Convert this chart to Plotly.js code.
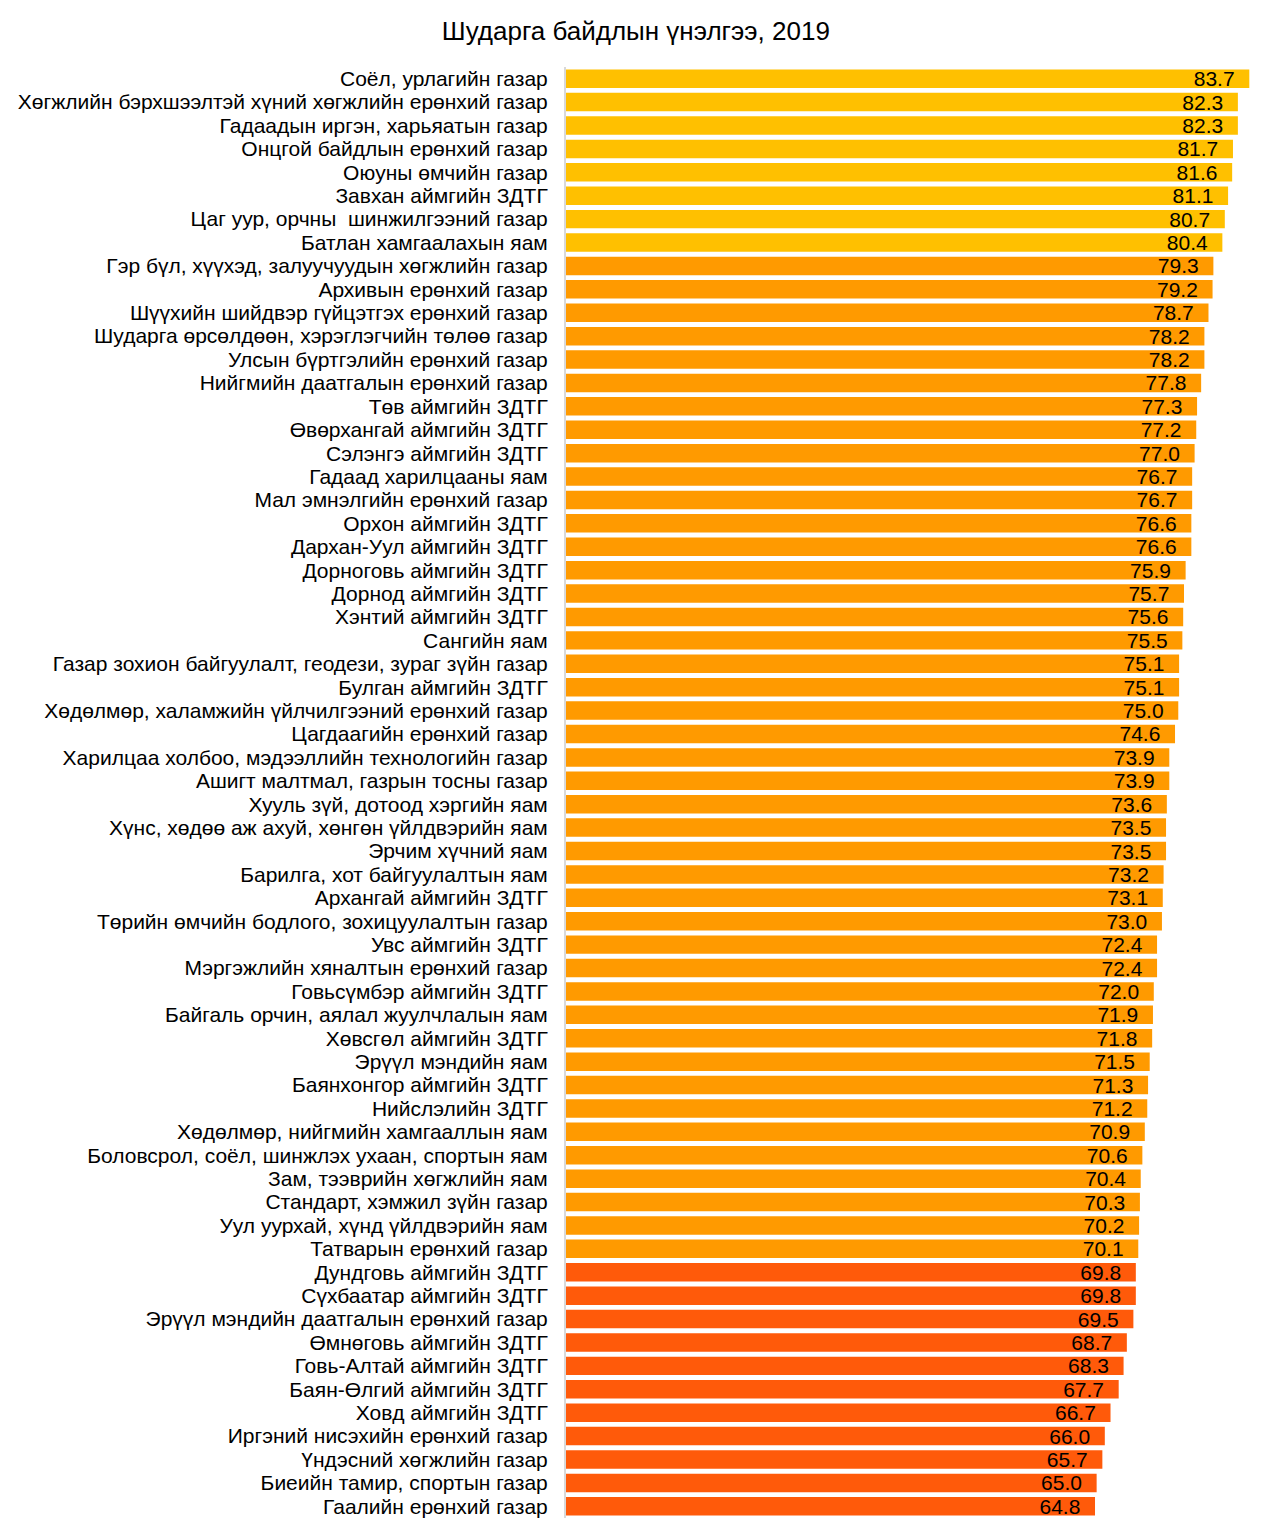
<!DOCTYPE html>
<html>
<head>
<meta charset="utf-8">
<script src="https://cdn.plot.ly/plotly-3.0.1.min.js"></script>
<style>html,body{margin:0;padding:0;background:#fff;}#chart{width:1282px;height:1538px;}</style>
</head>
<body>
<div id="chart"></div>
<script>
const categories = [
"Соёл, урлагийн газар",
"Хөгжлийн бэрхшээлтэй хүний хөгжлийн ерөнхий газар",
"Гадаадын иргэн, харьяатын газар",
"Онцгой байдлын ерөнхий газар",
"Оюуны өмчийн газар",
"Завхан аймгийн ЗДТГ",
"Цаг уур, орчны  шинжилгээний газар",
"Батлан хамгаалахын яам",
"Гэр бүл, хүүхэд, залуучуудын хөгжлийн газар",
"Архивын ерөнхий газар",
"Шүүхийн шийдвэр гүйцэтгэх ерөнхий газар",
"Шударга өрсөлдөөн, хэрэглэгчийн төлөө газар",
"Улсын бүртгэлийн ерөнхий газар",
"Нийгмийн даатгалын ерөнхий газар",
"Төв аймгийн ЗДТГ",
"Өвөрхангай аймгийн ЗДТГ",
"Сэлэнгэ аймгийн ЗДТГ",
"Гадаад харилцааны яам",
"Мал эмнэлгийн ерөнхий газар",
"Орхон аймгийн ЗДТГ",
"Дархан-Уул аймгийн ЗДТГ",
"Дорноговь аймгийн ЗДТГ",
"Дорнод аймгийн ЗДТГ",
"Хэнтий аймгийн ЗДТГ",
"Сангийн яам",
"Газар зохион байгуулалт, геодези, зураг зүйн газар",
"Булган аймгийн ЗДТГ",
"Хөдөлмөр, халамжийн үйлчилгээний ерөнхий газар",
"Цагдаагийн ерөнхий газар",
"Харилцаа холбоо, мэдээллийн технологийн газар",
"Ашигт малтмал, газрын тосны газар",
"Хууль зүй, дотоод хэргийн яам",
"Хүнс, хөдөө аж ахуй, хөнгөн үйлдвэрийн яам",
"Эрчим хүчний яам",
"Барилга, хот байгуулалтын яам",
"Архангай аймгийн ЗДТГ",
"Төрийн өмчийн бодлого, зохицуулалтын газар",
"Увс аймгийн ЗДТГ",
"Мэргэжлийн хяналтын ерөнхий газар",
"Говьсүмбэр аймгийн ЗДТГ",
"Байгаль орчин, аялал жуулчлалын яам",
"Хөвсгөл аймгийн ЗДТГ",
"Эрүүл мэндийн яам",
"Баянхонгор аймгийн ЗДТГ",
"Нийслэлийн ЗДТГ",
"Хөдөлмөр, нийгмийн хамгааллын яам",
"Боловсрол, соёл, шинжлэх ухаан, спортын яам",
"Зам, тээврийн хөгжлийн яам",
"Стандарт, хэмжил зүйн газар",
"Уул уурхай, хүнд үйлдвэрийн яам",
"Татварын ерөнхий газар",
"Дундговь аймгийн ЗДТГ",
"Сүхбаатар аймгийн ЗДТГ",
"Эрүүл мэндийн даатгалын ерөнхий газар",
"Өмнөговь аймгийн ЗДТГ",
"Говь-Алтай аймгийн ЗДТГ",
"Баян-Өлгий аймгийн ЗДТГ",
"Ховд аймгийн ЗДТГ",
"Иргэний нисэхийн ерөнхий газар",
"Үндэсний хөгжлийн газар",
"Биеийн тамир, спортын газар",
"Гаалийн ерөнхий газар"
];
const scores = [
83.7, 82.3, 82.3, 81.7, 81.6, 81.1, 80.7, 80.4,
79.3, 79.2, 78.7, 78.2, 78.2, 77.8, 77.3, 77.2, 77.0, 76.7, 76.7, 76.6, 76.6,
75.9, 75.7, 75.6, 75.5, 75.1, 75.1, 75.0, 74.6, 73.9, 73.9, 73.6, 73.5, 73.5,
73.2, 73.1, 73.0, 72.4, 72.4, 72.0, 71.9, 71.8, 71.5, 71.3, 71.2, 70.9, 70.6,
70.4, 70.3, 70.2, 70.1,
69.8, 69.8, 69.5, 68.7, 68.3, 67.7, 66.7, 66.0, 65.7, 65.0, 64.8
];
const colorHigh = "#FFC000", colorMid = "#FF9A00", colorLow = "#FF5A0A";
const barColors = scores.map(v => v >= 80 ? colorHigh : (v >= 70 ? colorMid : colorLow));

const trace = {
  type: "bar",
  orientation: "h",
  y: categories,
  x: scores,
  marker: {color: barColors, line: {width: 0}},
  text: scores.map(v => v.toFixed(1) + "\u2007"),
  textposition: "inside",
  insidetextanchor: "end",
  constraintext: "none",
  textangle: 0,
  textfont: {family: "Liberation Sans, Arial, sans-serif", size: 21, color: "#000"},
  cliponaxis: false,
  hoverinfo: "none"
};

const layout = {
  width: 1282,
  height: 1538,
  paper_bgcolor: "#fff",
  plot_bgcolor: "#fff",
  margin: {l: 566, r: 18, t: 67, b: 20},
  title: {text: "Шударга байдлын үнэлгээ, 2019", x: 0.496, xanchor: "center", y: 0.98, yanchor: "middle",
          font: {family: "Liberation Sans, Arial, sans-serif", size: 26, color: "#000"}},
  bargap: 0.21,
  showlegend: false,
  xaxis: {range: [0, 85.5], visible: false, fixedrange: true},
  yaxis: {
    type: "category",
    autorange: "reversed",
    tickmode: "array",
    tickvals: categories,
    ticktext: categories,
    showline: true, linecolor: "#d9d9d9", linewidth: 2,
    showgrid: false, zeroline: false, ticks: "",
    ticklabelstandoff: 12,
    tickfont: {family: "Liberation Sans, Arial, sans-serif", size: 21, color: "#000"},
    automargin: false
  },
  font: {family: "Liberation Sans, Arial, sans-serif"}
};

Plotly.newPlot("chart", [trace], layout, {displayModeBar: false, staticPlot: true});
</script>
</body>
</html>
